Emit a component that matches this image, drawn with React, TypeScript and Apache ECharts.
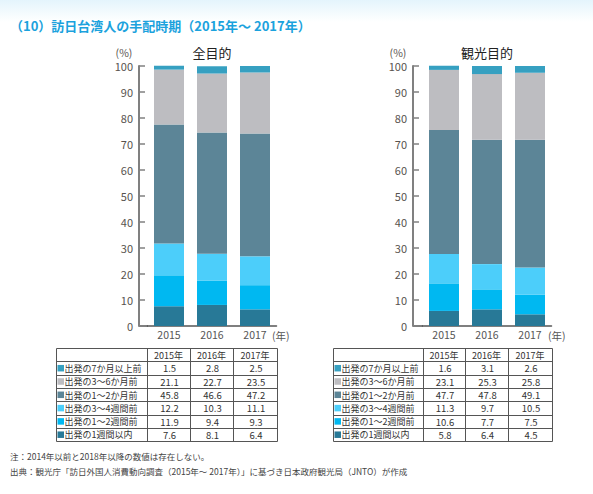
import React, { useEffect, useRef } from 'react';
import * as echarts from 'echarts';

const FONT = '"Noto Sans CJK JP", "Noto Sans", sans-serif';

const years = ['2015', '2016', '2017'];
const yearHeaders = ['2015年', '2016年', '2017年'];
const categories = [
  '出発の7か月以上前',
  '出発の3～6か月前',
  '出発の1～2か月前',
  '出発の3～4週間前',
  '出発の1～2週間前',
  '出発の1週間以内',
];
const colors = ['#36a0c1', '#bdbdc1', '#5c8597', '#4ccefa', '#00b8f1', '#287997'];

// rows follow categories order; columns follow years
const allPurpose = [
  [1.5, 2.8, 2.5],
  [21.1, 22.7, 23.5],
  [45.8, 46.6, 47.2],
  [12.2, 10.3, 11.1],
  [11.9, 9.4, 9.3],
  [7.6, 8.1, 6.4],
];
const sightseeing = [
  [1.6, 3.1, 2.6],
  [23.1, 25.3, 25.8],
  [47.7, 47.8, 49.1],
  [11.3, 9.7, 10.5],
  [10.6, 7.7, 7.5],
  [5.8, 6.4, 4.5],
];

const panelTitles = ['全目的', '観光目的'];
const titleText = '（10）訪日台湾人の手配時期（2015年～ 2017年）';
const note1 = '注：2014年以前と2018年以降の数値は存在しない。';
const note2 = '出典：観光庁「訪日外国人消費動向調査（2015年～ 2017年）」に基づき日本政府観光局（JNTO）が作成';

const W = 593;
const H = 494;
const GRID_TOP = 66;
const GRID_BOTTOM_Y = 326;

const panels = [
  { data: allPurpose, title: panelTitles[0], gridLeft: 147.5, gridRight: 276.5, axisX: 139, titleX: 212, unitX: 124, yearUnitX: 272, cols: [56, 147, 190, 233, 277] },
  { data: sightseeing, title: panelTitles[1], gridLeft: 422.5, gridRight: 551.5, axisX: 413, titleX: 487, unitX: 398, yearUnitX: 548, cols: [333, 423, 465, 508, 552] },
];

const TABLE_TOP = 348;
const ROW_H = 13.3;

function buildOption() {
  const grids: any[] = [];
  const xAxes: any[] = [];
  const yAxes: any[] = [];
  const series: any[] = [];
  const graphics: any[] = [];

  graphics.push({
    type: 'rect',
    shape: { x: 0, y: 0, width: W, height: 22 },
    style: {
      fill: new echarts.graphic.LinearGradient(0, 0, 0, 1, [
        { offset: 0, color: '#e4f4fc' },
        { offset: 1, color: '#ffffff' },
      ]),
    },
    z: -10,
  });
  graphics.push({
    type: 'text', x: 10, y: 25,
    style: { text: titleText, fill: '#1ba2dd', font: `bold 13px ${FONT}`, verticalAlign: 'middle' },
  });
  graphics.push({ type: 'text', x: 10, y: 456, style: { text: note1, fill: '#444', font: `8.5px ${FONT}`, verticalAlign: 'middle' } });
  graphics.push({ type: 'text', x: 10, y: 471, style: { text: note2, fill: '#444', font: `8.5px ${FONT}`, verticalAlign: 'middle' } });

  panels.forEach((p, pi) => {
    grids.push({
      left: p.gridLeft,
      right: W - p.gridRight,
      top: GRID_TOP,
      bottom: H - GRID_BOTTOM_Y,
      containLabel: false,
    });
    xAxes.push({
      type: 'category',
      gridIndex: pi,
      data: years,
      axisLine: { show: true, lineStyle: { color: '#555', width: 1.5 } },
      axisTick: { show: false },
      axisLabel: { color: '#555', fontSize: 10.5, margin: 3, fontFamily: FONT },
    });
    yAxes.push({
      type: 'value',
      gridIndex: pi,
      min: 0,
      max: 100,
      interval: 10,
      offset: p.gridLeft - p.axisX,
      axisLine: { show: true, lineStyle: { color: '#808080', width: 2 } },
      axisTick: { show: true, inside: true, length: 6, lineStyle: { color: '#808080', width: 1.5 } },
      axisLabel: { color: '#57524e', fontSize: 11, margin: 6, fontFamily: FONT },
      splitLine: { show: false },
    });
    for (let c = categories.length - 1; c >= 0; c--) {
      series.push({
        type: 'bar',
        name: categories[c],
        stack: 'p' + pi,
        xAxisIndex: pi,
        yAxisIndex: pi,
        barWidth: 30,
        clip: false,
        itemStyle: { color: colors[c] },
        data: p.data[c],
      });
    }
    // x-axis stub from the y-axis to the category band
    graphics.push({
      type: 'line',
      shape: { x1: p.axisX, y1: GRID_BOTTOM_Y, x2: p.gridLeft + 0.5, y2: GRID_BOTTOM_Y },
      style: { stroke: '#555', lineWidth: 1.5 },
    });
    graphics.push({ type: 'text', x: p.titleX, y: 52, style: { text: p.title, fill: '#222', font: `13px ${FONT}`, align: 'center', verticalAlign: 'middle' } });
    graphics.push({ type: 'text', x: p.unitX, y: 52, style: { text: '(%)', fill: '#57524e', font: `10.5px ${FONT}`, align: 'center', verticalAlign: 'middle' } });
    graphics.push({ type: 'text', x: p.yearUnitX, y: 335, style: { text: '(年)', fill: '#555', font: `10.5px ${FONT}`, verticalAlign: 'middle' } });

    // table
    const cols = p.cols;
    const nRows = categories.length + 1;
    const bottom = TABLE_TOP + ROW_H * nRows;
    for (let r = 0; r <= nRows; r++) {
      const y = Math.round(TABLE_TOP + ROW_H * r) + 0.5;
      graphics.push({ type: 'line', shape: { x1: cols[0] + 0.5, y1: y, x2: cols[cols.length - 1] + 0.5, y2: y }, style: { stroke: '#555', lineWidth: 1 } });
    }
    cols.forEach((x) => {
      graphics.push({ type: 'line', shape: { x1: x + 0.5, y1: Math.round(TABLE_TOP) + 0.5, x2: x + 0.5, y2: Math.round(bottom) + 0.5 }, style: { stroke: '#555', lineWidth: 1 } });
    });
    yearHeaders.forEach((t, yi) => {
      graphics.push({
        type: 'text', x: (cols[yi + 1] + cols[yi + 2]) / 2, y: TABLE_TOP + ROW_H / 2 + 0.5,
        style: { text: t, fill: '#333', font: `9px ${FONT}`, align: 'center', verticalAlign: 'middle' },
      });
    });
    categories.forEach((cat, ci) => {
      const cy = TABLE_TOP + ROW_H * (ci + 1) + ROW_H / 2 + 0.5;
      graphics.push({ type: 'rect', shape: { x: cols[0] + 1.5, y: cy - 3.5, width: 6.5, height: 6.5 }, style: { fill: colors[ci] } });
      graphics.push({ type: 'text', x: cols[0] + 8.5, y: cy, style: { text: cat, fill: '#333', font: `9px ${FONT}`, verticalAlign: 'middle' } });
      years.forEach((_, yi) => {
        graphics.push({
          type: 'text', x: (cols[yi + 1] + cols[yi + 2]) / 2 + 1, y: cy,
          style: { text: p.data[ci][yi].toFixed(1), fill: '#333', font: `9.5px ${FONT}`, align: 'center', verticalAlign: 'middle' },
        });
      });
    });
  });

  return {
    animation: false,
    backgroundColor: '#ffffff',
    textStyle: { fontFamily: FONT },
    grid: grids,
    xAxis: xAxes,
    yAxis: yAxes,
    series,
    graphic: { elements: graphics },
  };
}

export default function App() {
  const ref = useRef<HTMLDivElement>(null);
  useEffect(() => {
    const chart = echarts.init(ref.current!, null, { renderer: 'svg' });
    chart.setOption(buildOption() as any);
    return () => chart.dispose();
  }, []);
  return (
    <div
      ref={ref}
      style={{ position: 'fixed', left: 0, top: 0, width: W, height: H, background: '#fff' }}
    />
  );
}
